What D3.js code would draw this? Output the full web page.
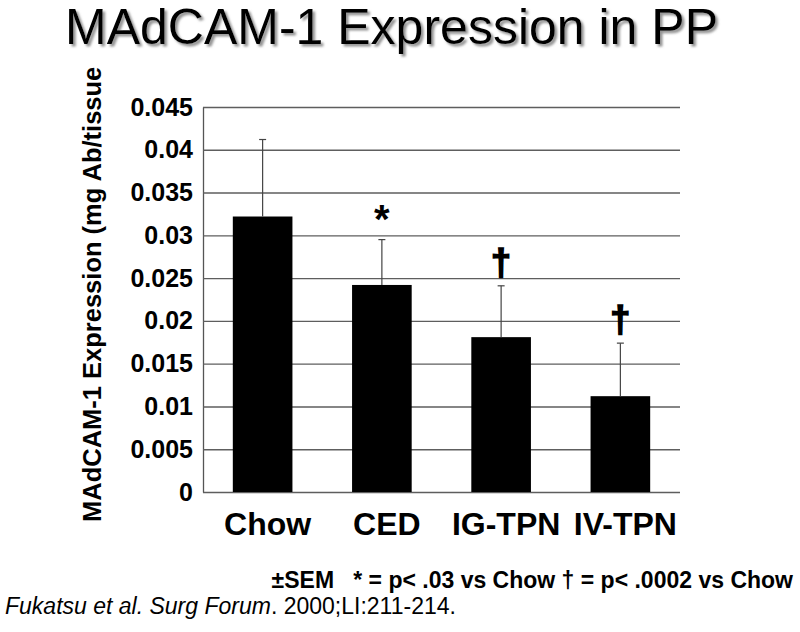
<!DOCTYPE html>
<html>
<head>
<meta charset="utf-8">
<script src="https://cdn.jsdelivr.net/npm/d3@7"></script>
<style>
  html, body { margin: 0; padding: 0; background: #fff; }
  svg { display: block; font-family: "Liberation Sans", Arial, Helvetica, sans-serif; }
</style>
</head>
<body>
<svg id="chart" width="800" height="632"></svg>
<script>
// ---- data ----
const categories = ["Chow", "CED", "IG-TPN", "IV-TPN"];
const means = [0.0322, 0.0242, 0.0181, 0.0112];
const sems = [0.0090, 0.0053, 0.0060, 0.0062];
const markers = ["", "*", "\u2020", "\u2020"];
const yTicks = [0, 0.005, 0.01, 0.015, 0.02, 0.025, 0.03, 0.035, 0.04, 0.045];
const yTickLabels = ["0", "0.005", "0.01", "0.015", "0.02", "0.025", "0.03", "0.035", "0.04", "0.045"];
const titleText = "MAdCAM-1 Expression in PP";
const yAxisTitle = "MAdCAM-1 Expression (mg Ab/tissue";
const footnote1 = "\u00B1SEM   * = p< .03 vs Chow \u2020 = p< .0002 vs Chow";
const citeItalic = "Fukatsu et al. Surg Forum";
const citeRest = ". 2000;LI:211-214.";

// ---- layout ----
const svg = d3.select("#chart");
const plotLeft = 203, plotRight = 680, plotTop = 107, plotBottom = 492;

const y = d3.scaleLinear().domain([0, 0.045]).range([plotBottom, plotTop]);
const x = d3.scaleBand().domain(categories).range([plotLeft, plotRight])
  .paddingInner(0.5).paddingOuter(0.25);

svg.append("rect").attr("width", 800).attr("height", 632).attr("fill", "#fff");

// title with drop shadow
const defs = svg.append("defs");
const f = defs.append("filter").attr("id", "shadow")
  .attr("filterUnits", "userSpaceOnUse")
  .attr("x", 0).attr("y", 0).attr("width", 800).attr("height", 80);
f.append("feDropShadow").attr("dx", 2.5).attr("dy", 2.5).attr("stdDeviation", 0.8)
  .attr("flood-color", "#777").attr("flood-opacity", 0.8);

svg.append("text")
  .attr("x", 65).attr("y", 44)
  .attr("font-size", 50)
  .attr("fill", "#000")
  .attr("filter", "url(#shadow)")
  .text(titleText);

// y axis with gridlines
const yAxis = d3.axisLeft(y)
  .tickValues(yTicks)
  .tickFormat((d, i) => yTickLabels[i])
  .tickSize(-(plotRight - plotLeft))
  .tickSizeOuter(0)
  .tickPadding(10);

const gy = svg.append("g").attr("transform", `translate(${plotLeft},0)`).call(yAxis);
gy.select(".domain").attr("stroke", "#555").attr("stroke-width", 1.3);
gy.selectAll(".tick line").attr("stroke", "#5e5e5e").attr("stroke-width", 1.4);
gy.selectAll(".tick text")
  .attr("font-family", "'Liberation Sans', Arial, sans-serif")
  .attr("font-size", 25).attr("font-weight", "bold").attr("fill", "#000");

// bars
svg.append("g").selectAll("rect")
  .data(categories)
  .join("rect")
  .attr("x", d => x(d))
  .attr("width", x.bandwidth())
  .attr("y", (d, i) => y(means[i]))
  .attr("height", (d, i) => y(0) - y(means[i]))
  .attr("fill", "#000");

// error bars (upper only)
const eg = svg.append("g").attr("stroke", "#444").attr("stroke-width", 1.2);
categories.forEach((c, i) => {
  const cx = x(c) + x.bandwidth() / 2;
  eg.append("line").attr("x1", cx).attr("x2", cx)
    .attr("y1", y(means[i])).attr("y2", y(means[i] + sems[i]));
  eg.append("line").attr("x1", cx - 3.5).attr("x2", cx + 3.5)
    .attr("y1", y(means[i] + sems[i])).attr("y2", y(means[i] + sems[i]));
});

// significance markers
svg.append("g").selectAll("text")
  .data(categories)
  .join("text")
  .attr("x", d => x(d) + x.bandwidth() / 2)
  .attr("y", (d, i) => y(means[i] + sems[i]) - (markers[i] === "*" ? 7 : 11))
  .attr("text-anchor", "middle")
  .attr("font-weight", "bold")
  .attr("font-size", (d, i) => markers[i] === "*" ? 40 : 36)
  .attr("stroke", "#000")
  .attr("stroke-width", (d, i) => markers[i] === "*" ? 0 : 1.6)
  .text((d, i) => markers[i]);

// x category labels
svg.append("g").selectAll("text")
  .data(categories)
  .join("text")
  .attr("x", d => x(d) + x.bandwidth() / 2 + 5)
  .attr("y", 535)
  .attr("text-anchor", "middle")
  .attr("font-weight", "bold")
  .attr("font-size", 32)
  .text(d => d);

// y axis title
svg.append("text")
  .attr("transform", "translate(101,522) rotate(-90)")
  .attr("text-anchor", "start")
  .attr("font-weight", "bold")
  .attr("font-size", 25.5)
  .text(yAxisTitle);

// footnotes
svg.append("text")
  .attr("x", 793).attr("y", 588)
  .attr("text-anchor", "end")
  .attr("font-weight", "bold")
  .attr("font-size", 23)
  .attr("xml:space", "preserve")
  .style("white-space", "pre")
  .text(footnote1);

const cite = svg.append("text")
  .attr("x", 5).attr("y", 614)
  .attr("font-size", 23);
cite.append("tspan").attr("font-style", "italic").text(citeItalic);
cite.append("tspan").text(citeRest);
</script>
</body>
</html>
